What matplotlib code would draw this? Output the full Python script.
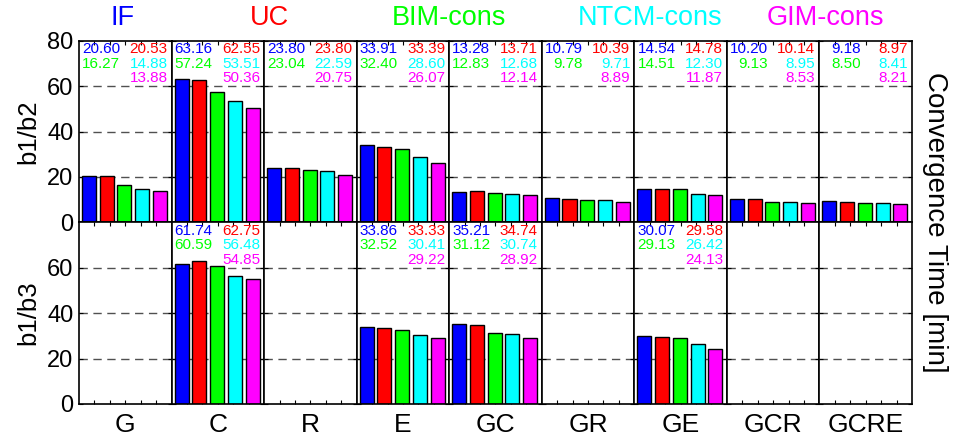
import numpy as np
import matplotlib
matplotlib.use("Agg")
import matplotlib.pyplot as plt

plt.rcParams['font.family'] = ['Liberation Sans', 'DejaVu Sans']

# processing combinations (one panel each)
combos = ['G', 'C', 'R', 'E', 'GC', 'GR', 'GE', 'GCR', 'GCRE']
methods = ['IF', 'UC', 'BIM-cons', 'NTCM-cons', 'GIM-cons']
colors = ['#0000ff', '#ff0000', '#00ff00', '#00ffff', '#ff00ff']

# convergence time [min], ratio b1/b2
if_b2 = [20.60, 63.16, 23.80, 33.91, 13.28, 10.79, 14.54, 10.20, 9.18]
uc_b2 = [20.53, 62.55, 23.80, 33.39, 13.71, 10.39, 14.78, 10.14, 8.97]
bim_b2 = [16.27, 57.24, 23.04, 32.40, 12.83, 9.78, 14.51, 9.13, 8.50]
ntcm_b2 = [14.88, 53.51, 22.59, 28.60, 12.68, 9.71, 12.30, 8.95, 8.41]
gim_b2 = [13.88, 50.36, 20.75, 26.07, 12.14, 8.89, 11.87, 8.53, 8.21]

# convergence time [min], ratio b1/b3 (None = not processed)
if_b3 = [None, 61.74, None, 33.86, 35.21, None, 30.07, None, None]
uc_b3 = [None, 62.75, None, 33.33, 34.74, None, 29.58, None, None]
bim_b3 = [None, 60.59, None, 32.52, 31.12, None, 29.13, None, None]
ntcm_b3 = [None, 56.48, None, 30.41, 30.74, None, 26.42, None, None]
gim_b3 = [None, 54.85, None, 29.22, 28.92, None, 24.13, None, None]

rows = [
    ('b1/b2', [if_b2, uc_b2, bim_b2, ntcm_b2, gim_b2]),
    ('b1/b3', [if_b3, uc_b3, bim_b3, ntcm_b3, gim_b3]),
]

fig = plt.figure(figsize=(9.54, 4.38), dpi=100)
W, H = 954.0, 438.0
left, right = 79.0, 912.0
top, mid, bottom = 40.7, 222.3, 404.0
pw = (right - left) / len(combos)

xpos = np.arange(1, 6)
x0 = 0.437
span = 5.217
# text slots: (x fraction, y fraction) for each method, right aligned
slots = [(0.445, 0.952), (0.957, 0.952),
         (0.445, 0.874), (0.957, 0.874),
         (0.957, 0.794)]

for r, (ylab, series) in enumerate(rows):
    ytop = top if r == 0 else mid
    ybot = mid if r == 0 else bottom
    for c, name in enumerate(combos):
        ax = fig.add_axes([(left + c * pw) / W, 1 - ybot / H, pw / W, (ybot - ytop) / H])
        ax.set_xlim(x0, x0 + span)
        ax.set_ylim(0, 80)
        for g in (20, 40, 60):
            ax.axhline(g, color='#505050', lw=1.0, ls=(0, (6, 4)), zorder=1)
        vals = [s[c] for s in series]
        if vals[0] is not None:
            ax.bar(xpos, vals, width=0.79, color=colors, edgecolor='black',
                   linewidth=1.0, zorder=2)
            for v, col, (tx, ty) in zip(vals, colors, slots):
                ax.text(tx, ty, '%.2f' % v, color=col, fontsize=11,
                        ha='right', va='center', transform=ax.transAxes, zorder=5)
        ax.set_xticks(x0 + span * np.arange(1, 6) / 6.0)
        ax.set_xticklabels([])
        ax.tick_params(direction='in', length=3, width=0.8, top=True, right=True,
                       bottom=True, left=True, labelsize=17, pad=4)
        if r == 0:
            ax.set_yticks([0, 20, 40, 60, 80])
        else:
            ax.set_yticks([0, 20, 40, 60])
        if c != 0:
            ax.set_yticklabels([])
        else:
            ax.set_ylabel(ylab, fontsize=18.5, labelpad=5)
        for sp in ax.spines.values():
            sp.set_linewidth(1.2)
        if r == 1:
            ax.text(0.5, -0.05, name, ha='center', va='top', fontsize=19,
                    transform=ax.transAxes)

# method names across the top
title_x = [123, 269, 449, 650, 825]
for m, col, tx in zip(methods, colors, title_x):
    fig.text(tx / W, 1 - 18 / H, m, color=col, fontsize=19.5, ha='center', va='center')

fig.text(935 / W, 1 - 222 / H, 'Convergence Time [min]', rotation=270,
         fontsize=20, ha='center', va='center')

fig.savefig('out.png', dpi=100)
